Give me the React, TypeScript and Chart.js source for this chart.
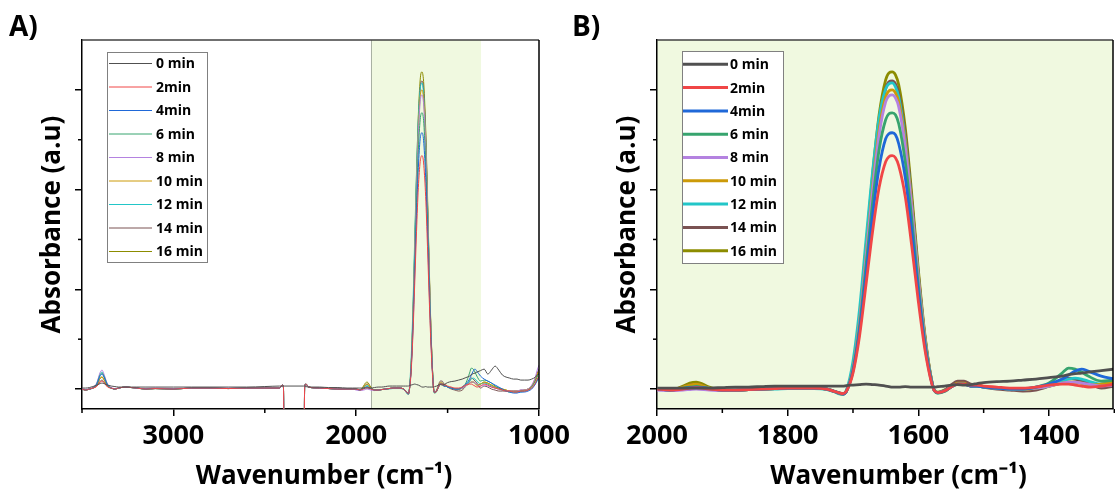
import React, { useEffect, useRef } from 'react';
import { Chart, registerables } from 'chart.js';

Chart.register(...registerables);

const FONT = '"Open Sans"';

// ---- series labels & colours ----
const LABELS = ['0 min', '2min', '4min', '6 min', '8 min', '10 min', '12 min', '14 min', '16 min'];
const COLORS = ['#505050', '#f04646', '#1f68d8', '#37a46e', '#b482e0', '#cc9a08', '#22c6c8', '#7a5252', '#8c8c00'];

// ---- axis ticks & titles ----
const A_X_MAJOR = [3000, 2000, 1000];
const A_X_MINOR = [3500, 2500, 1500];
const B_X_MAJOR = [2000, 1800, 1600, 1400];
const B_X_MINOR = [1900, 1700, 1500, 1300];
const Y_MAJOR = [0, 1, 2, 3];
const Y_MINOR = [0.5, 1.5, 2.5];
const A_SHADE = [1920, 1317];
const X_TITLE = '    Wavenumber (cm⁻¹)';
const Y_TITLE = 'Absorbance (a.u)';

// ---- wavenumber grids (cm-1) ----
const WN_HIGH = [3500, 3480, 3460, 3440, 3420, 3400, 3390, 3380, 3360, 3340, 3320, 3300, 3260, 3230, 3200, 3150, 3100, 3000, 2900, 2800, 2700, 2600, 2500, 2420, 2405, 2398, 2390, 2290, 2282, 2275, 2260, 2200, 2150, 2100, 2050, 2020];
const WN_MID = [2000, 1980, 1960, 1950, 1940, 1920, 1900, 1880, 1860, 1840, 1820, 1800, 1780, 1760, 1740, 1730, 1720, 1715, 1710, 1700, 1690, 1680, 1670, 1660, 1650, 1645, 1640, 1635, 1630, 1620, 1610, 1600, 1590, 1580, 1575, 1570, 1560, 1550, 1540, 1530, 1520, 1510, 1500, 1480, 1460, 1440, 1420, 1400, 1380, 1370, 1360, 1350, 1340, 1320, 1300];
const WN_LOW = [1280, 1260, 1240, 1220, 1200, 1180, 1160, 1140, 1120, 1100, 1080, 1060, 1040, 1020, 1010, 1000];

// ---- absorbance, 3500-2020 cm-1 ----
const HIGH_0 = [0.01, 0.01, 0.015, 0.025, 0.04, 0.055, 0.06, 0.055, 0.04, 0.03, 0.025, 0.02, 0.02, 0.02, 0.02, 0.02, 0.02, 0.02, 0.02, 0.02, 0.02, 0.02, 0.025, 0.03, 0.03, 0.03, 0.03, 0.03, 0.03, 0.025, 0.02, 0.02, 0.015, 0.015, 0.01, 0.01];
const HIGH_2 = [0.0, -0.01, 0.0, 0.01, 0.025, 0.07, 0.08, 0.065, 0.02, 0.01, 0.0, 0.01, 0.02, 0.015, 0.01, 0.0, 0.005, 0.0, 0.01, 0.01, 0.005, 0.01, 0.01, 0.01, 0.04, 0.02, -3, -3, 0.02, 0.05, 0.02, 0.01, 0.005, 0.0, 0.0, 0.0];
const HIGH_4 = [0.0, -0.01, 0.0, 0.01, 0.045, 0.135, 0.15, 0.12, 0.04, 0.01, 0.0, 0.01, 0.02, 0.015, 0.01, 0.0, 0.005, 0.0, 0.01, 0.01, 0.005, 0.01, 0.01, 0.01, 0.04, 0.02, -3, -3, 0.02, 0.05, 0.02, 0.01, 0.005, 0.0, 0.0, 0.0];
const HIGH_6 = [0.0, -0.01, 0.0, 0.01, 0.05, 0.145, 0.16, 0.13, 0.04, 0.01, 0.0, 0.01, 0.02, 0.015, 0.01, 0.0, 0.005, 0.0, 0.01, 0.01, 0.005, 0.01, 0.01, 0.01, 0.04, 0.02, -3, -3, 0.02, 0.05, 0.02, 0.01, 0.005, 0.0, 0.0, 0.0];
const HIGH_8 = [0.005, -0.005, 0.005, 0.015, 0.06, 0.17, 0.19, 0.15, 0.05, 0.015, 0.005, 0.01, 0.02, 0.015, 0.01, 0.005, 0.01, 0.005, 0.01, 0.01, 0.01, 0.01, 0.01, 0.01, 0.04, 0.02, -3, -3, 0.02, 0.05, 0.02, 0.01, 0.005, 0.0, 0.0, 0.0];
const HIGH_10 = [0.0, -0.01, 0.0, 0.01, 0.035, 0.11, 0.12, 0.095, 0.03, 0.01, 0.0, 0.01, 0.02, 0.015, 0.01, 0.0, 0.005, 0.0, 0.01, 0.01, 0.005, 0.01, 0.01, 0.01, 0.04, 0.02, -3, -3, 0.02, 0.05, 0.02, 0.01, 0.005, 0.0, 0.0, 0.0];
const HIGH_12 = [0.0, -0.01, 0.0, 0.01, 0.05, 0.155, 0.17, 0.135, 0.045, 0.01, 0.0, 0.01, 0.02, 0.015, 0.01, 0.0, 0.005, 0.0, 0.01, 0.01, 0.005, 0.01, 0.01, 0.01, 0.04, 0.02, -3, -3, 0.02, 0.05, 0.02, 0.01, 0.005, 0.0, 0.0, 0.0];
const HIGH_14 = [0.0, -0.01, 0.0, 0.01, 0.03, 0.08, 0.09, 0.07, 0.025, 0.01, 0.0, 0.01, 0.02, 0.015, 0.01, 0.0, 0.005, 0.0, 0.01, 0.01, 0.005, 0.01, 0.01, 0.01, 0.04, 0.02, -3, -3, 0.02, 0.05, 0.02, 0.01, 0.005, 0.0, 0.0, 0.0];
const HIGH_16 = [0.0, -0.01, 0.0, 0.01, 0.035, 0.11, 0.12, 0.095, 0.03, 0.01, 0.0, 0.01, 0.02, 0.015, 0.01, 0.0, 0.005, 0.0, 0.01, 0.01, 0.005, 0.01, 0.01, 0.01, 0.04, 0.02, -3, -3, 0.02, 0.05, 0.02, 0.01, 0.005, 0.0, 0.0, 0.0];

// ---- absorbance, 2000-1300 cm-1 ----
const MID_0 = [0.01, 0.01, 0.01, 0.01, 0.01, 0.01, 0.015, 0.02, 0.02, 0.025, 0.03, 0.03, 0.03, 0.03, 0.03, 0.03, 0.03, 0.03, 0.035, 0.04, 0.045, 0.05, 0.045, 0.04, 0.03, 0.025, 0.02, 0.02, 0.02, 0.025, 0.02, 0.02, 0.02, 0.02, 0.02, 0.025, 0.03, 0.04, 0.045, 0.04, 0.045, 0.055, 0.065, 0.075, 0.08, 0.09, 0.1, 0.115, 0.13, 0.145, 0.155, 0.16, 0.17, 0.185, 0.2];
const MID_2 = [0.0, -0.01, 0.0, 0.01, 0.015, 0.0, -0.01, -0.01, -0.005, 0.0, 0.005, 0.01, 0.01, 0.01, 0.0, -0.02, -0.04, -0.045, -0.02, 0.16, 0.53, 1.05, 1.58, 2.02, 2.28, 2.33, 2.34, 2.32, 2.24, 1.93, 1.43, 0.88, 0.4, 0.07, -0.02, -0.035, -0.02, 0.02, 0.05, 0.05, 0.04, 0.04, 0.03, 0.02, 0.01, 0.01, 0.02, 0.04, 0.05, 0.05, 0.04, 0.03, 0.02, 0.03, 0.05];
const MID_4 = [0.0, -0.01, 0.005, 0.015, 0.02, 0.005, -0.01, -0.01, -0.005, 0.0, 0.005, 0.01, 0.01, 0.01, 0.0, -0.02, -0.04, -0.05, -0.02, 0.18, 0.58, 1.15, 1.74, 2.22, 2.51, 2.56, 2.57, 2.55, 2.46, 2.12, 1.58, 0.97, 0.44, 0.08, -0.02, -0.035, -0.02, 0.02, 0.05, 0.05, 0.03, 0.03, 0.02, 0.01, 0.0, 0.0, 0.02, 0.05, 0.1, 0.14, 0.18, 0.2, 0.18, 0.13, 0.1];
const MID_6 = [0.0, -0.01, 0.01, 0.02, 0.025, 0.005, -0.01, -0.01, -0.005, 0.0, 0.005, 0.01, 0.01, 0.01, 0.0, -0.02, -0.045, -0.05, -0.02, 0.19, 0.63, 1.24, 1.87, 2.4, 2.7, 2.76, 2.77, 2.75, 2.66, 2.28, 1.7, 1.04, 0.48, 0.09, -0.02, -0.04, -0.025, 0.02, 0.05, 0.05, 0.03, 0.03, 0.02, 0.01, 0.0, 0.0, 0.02, 0.06, 0.16, 0.21, 0.2, 0.17, 0.13, 0.08, 0.09];
const MID_8 = [-0.01, -0.015, -0.01, -0.005, 0.0, -0.01, -0.015, -0.01, -0.005, 0.0, 0.005, 0.01, 0.01, 0.01, 0.0, -0.02, -0.045, -0.05, -0.02, 0.2, 0.67, 1.32, 1.99, 2.55, 2.88, 2.94, 2.95, 2.92, 2.83, 2.43, 1.81, 1.11, 0.51, 0.09, -0.02, -0.035, -0.02, 0.02, 0.05, 0.05, 0.03, 0.03, 0.02, 0.01, 0.0, 0.0, 0.01, 0.03, 0.06, 0.07, 0.07, 0.06, 0.05, 0.03, 0.04];
const MID_10 = [0.0, -0.01, 0.02, 0.04, 0.05, 0.01, -0.01, -0.01, -0.005, 0.0, 0.005, 0.01, 0.01, 0.01, 0.0, -0.02, -0.045, -0.05, -0.02, 0.21, 0.68, 1.34, 2.03, 2.6, 2.93, 2.99, 3.0, 2.97, 2.88, 2.47, 1.84, 1.13, 0.52, 0.09, -0.02, -0.035, -0.02, 0.02, 0.06, 0.06, 0.03, 0.03, 0.02, 0.01, 0.0, -0.005, 0.01, 0.03, 0.06, 0.07, 0.07, 0.06, 0.04, 0.05, 0.07];
const MID_12 = [0.0, -0.01, 0.015, 0.03, 0.035, 0.01, -0.01, -0.01, -0.005, 0.0, 0.0, 0.005, 0.005, 0.005, -0.005, -0.025, -0.05, -0.05, -0.01, 0.28, 0.8, 1.5, 2.18, 2.72, 3.01, 3.06, 3.07, 3.03, 2.93, 2.5, 1.85, 1.13, 0.51, 0.09, -0.02, -0.04, -0.02, 0.02, 0.05, 0.05, 0.03, 0.03, 0.02, 0.01, 0.0, 0.0, 0.01, 0.03, 0.08, 0.1, 0.11, 0.1, 0.08, 0.05, 0.06];
const MID_14 = [0.0, -0.01, 0.02, 0.04, 0.05, 0.01, -0.01, -0.01, -0.005, 0.0, 0.005, 0.01, 0.015, 0.01, 0.0, -0.02, -0.04, -0.045, -0.02, 0.21, 0.7, 1.38, 2.09, 2.67, 3.01, 3.08, 3.09, 3.06, 2.96, 2.55, 1.89, 1.16, 0.53, 0.1, -0.02, -0.035, -0.015, 0.04, 0.08, 0.08, 0.05, 0.04, 0.02, 0.0, -0.01, -0.02, -0.01, 0.03, 0.08, 0.11, 0.1, 0.08, 0.06, 0.01, 0.03];
const MID_16 = [0.0, -0.01, 0.03, 0.06, 0.07, 0.02, -0.01, -0.01, -0.005, 0.0, 0.005, 0.01, 0.015, 0.01, 0.0, -0.02, -0.04, -0.05, -0.02, 0.22, 0.72, 1.42, 2.15, 2.75, 3.1, 3.17, 3.18, 3.15, 3.05, 2.62, 1.95, 1.2, 0.55, 0.1, -0.02, -0.03, -0.01, 0.03, 0.06, 0.06, 0.04, 0.04, 0.025, 0.01, 0.0, 0.0, 0.01, 0.03, 0.06, 0.07, 0.07, 0.06, 0.04, 0.05, 0.07];

// ---- absorbance, 1280-1000 cm-1 ----
const LOW_0 = [0.15, 0.19, 0.23, 0.19, 0.14, 0.12, 0.11, 0.1, 0.1, 0.09, 0.09, 0.09, 0.1, 0.12, 0.14, 0.15];
const LOW_2 = [0.04, 0.02, 0.01, 0.0, -0.01, -0.02, -0.02, -0.03, -0.03, -0.02, -0.02, -0.01, 0.01, 0.06, 0.1, 0.13];
const LOW_4 = [0.08, 0.06, 0.04, 0.02, 0.0, -0.02, -0.03, -0.04, -0.04, -0.03, -0.03, -0.02, 0.0, 0.05, 0.09, 0.12];
const LOW_6 = [0.08, 0.06, 0.03, 0.01, -0.01, -0.02, -0.03, -0.03, -0.03, -0.02, -0.02, -0.01, 0.02, 0.08, 0.12, 0.16];
const LOW_8 = [0.03, 0.02, 0.01, 0.0, -0.01, -0.02, -0.02, -0.02, -0.02, -0.01, -0.01, 0.0, 0.04, 0.12, 0.19, 0.24];
const LOW_10 = [0.06, 0.04, 0.02, 0.01, 0.0, -0.01, -0.02, -0.02, -0.02, -0.02, -0.01, 0.0, 0.03, 0.1, 0.15, 0.18];
const LOW_12 = [0.05, 0.03, 0.01, 0.0, -0.01, -0.02, -0.03, -0.03, -0.03, -0.03, -0.02, -0.01, 0.01, 0.05, 0.08, 0.1];
const LOW_14 = [0.02, 0.0, -0.01, -0.02, -0.02, -0.02, -0.02, -0.02, -0.02, -0.01, -0.01, 0.0, 0.03, 0.11, 0.16, 0.2];
const LOW_16 = [0.06, 0.04, 0.02, 0.01, 0.0, -0.01, -0.02, -0.02, -0.02, -0.02, -0.01, 0.0, 0.03, 0.09, 0.14, 0.17];

const HIGH = [HIGH_0, HIGH_2, HIGH_4, HIGH_6, HIGH_8, HIGH_10, HIGH_12, HIGH_14, HIGH_16];
const MID = [MID_0, MID_2, MID_4, MID_6, MID_8, MID_10, MID_12, MID_14, MID_16];
const LOW = [LOW_0, LOW_2, LOW_4, LOW_6, LOW_8, LOW_10, LOW_12, LOW_14, LOW_16];

function zip(xs: number[], ys: number[]) {
  return xs.map((x, i) => ({ x, y: ys[i] }));
}

type PanelCfg = {
  letter: string;
  letterX: number;
  full: boolean;
  lineWidth: number;
  legend: { x: number; y: number; w: number; h: number; x1: number; x2: number; tx: number; y0: number; dy: number };
  xMinor: number[];
};

function makePlugins(cfg: PanelCfg) {
  return [
    {
      id: 'panelBg',
      beforeDraw(chart: any) {
        const { ctx, chartArea: ca, scales } = chart;
        ctx.save();
        ctx.fillStyle = '#f0f9e0';
        if (cfg.full) {
          ctx.fillRect(ca.left, ca.top, ca.right - ca.left, ca.bottom - ca.top);
        } else {
          const x1 = scales.x.getPixelForValue(A_SHADE[0]);
          const x2 = scales.x.getPixelForValue(A_SHADE[1]);
          ctx.fillRect(x1, ca.top, x2 - x1, ca.bottom - ca.top);
          ctx.strokeStyle = '#a9b1a3';
          ctx.lineWidth = 1;
          ctx.beginPath();
          ctx.moveTo(Math.round(x1) + 0.5, ca.top);
          ctx.lineTo(Math.round(x1) + 0.5, ca.bottom);
          ctx.stroke();
        }
        ctx.restore();
      },
    },
    {
      id: 'frameTicksLegend',
      afterDraw(chart: any) {
        const { ctx, chartArea: ca, scales } = chart;
        ctx.save();
        ctx.lineWidth = 1.5;
        ctx.strokeStyle = '#404040';
        ctx.beginPath();
        ctx.moveTo(ca.left, ca.top);
        ctx.lineTo(ca.right, ca.top);
        ctx.stroke();
        ctx.strokeStyle = '#000';
        ctx.beginPath();
        ctx.moveTo(ca.right, ca.top);
        ctx.lineTo(ca.right, ca.bottom);
        ctx.stroke();
        ctx.strokeStyle = '#000';
        ctx.lineWidth = 1.5;
        cfg.xMinor.forEach((v) => {
          const px = scales.x.getPixelForValue(v);
          ctx.beginPath();
          ctx.moveTo(px, ca.bottom);
          ctx.lineTo(px, ca.bottom + 4);
          ctx.stroke();
        });
        Y_MINOR.forEach((v) => {
          const py = scales.y.getPixelForValue(v);
          ctx.beginPath();
          ctx.moveTo(ca.left, py);
          ctx.lineTo(ca.left - 4, py);
          ctx.stroke();
        });
        const L = cfg.legend;
        ctx.fillStyle = '#ffffff';
        ctx.fillRect(L.x, L.y, L.w, L.h);
        ctx.strokeStyle = '#808080';
        ctx.lineWidth = 1;
        ctx.strokeRect(L.x + 0.5, L.y + 0.5, L.w, L.h);
        chart.data.datasets.forEach((ds: any, i: number) => {
          const yy = L.y0 + i * L.dy;
          ctx.strokeStyle = ds.borderColor;
          ctx.lineWidth = cfg.lineWidth;
          ctx.beginPath();
          ctx.moveTo(L.x1, yy);
          ctx.lineTo(L.x2, yy);
          ctx.stroke();
          ctx.fillStyle = '#000';
          ctx.font = `bold 14px ${FONT}`;
          ctx.textBaseline = 'middle';
          ctx.textAlign = 'left';
          ctx.fillText(ds.label, L.tx, yy + 1);
        });
        ctx.fillStyle = '#000';
        ctx.font = `bold 28px ${FONT}`;
        ctx.textBaseline = 'alphabetic';
        ctx.fillText(cfg.letter, cfg.letterX, 36);
        ctx.restore();
      },
    },
  ];
}

function axisCommon() {
  return {
    grid: { display: true, drawOnChartArea: false, drawTicks: true, tickLength: 7, color: '#000', lineWidth: 1.5 },
    border: { display: true, color: '#000', width: 1.5 },
  };
}

function buildConfig(panel: 'A' | 'B'): any {
  const isA = panel === 'A';
  const datasets = LABELS.map((label, i) => ({
    label,
    data: isA
      ? zip([...WN_HIGH, ...WN_MID, ...WN_LOW], [...HIGH[i], ...MID[i], ...LOW[i]])
      : zip(WN_MID, MID[i]),
    borderColor: COLORS[i],
    backgroundColor: COLORS[i],
    borderWidth: isA ? 1 : 2.8,
    pointRadius: 0,
    fill: false,
    cubicInterpolationMode: 'monotone',
  }));
  const cfg: PanelCfg = isA
    ? {
        letter: 'A)', letterX: 9, full: false, lineWidth: 1,
        legend: { x: 107, y: 52, w: 100, h: 210, x1: 109, x2: 152, tx: 156, y0: 63.5, dy: 23.5 },
        xMinor: A_X_MINOR,
      }
    : {
        letter: 'B)', letterX: 15, full: true, lineWidth: 3,
        legend: { x: 125, y: 51, w: 101, h: 212, x1: 126, x2: 171, tx: 173, y0: 64.3, dy: 23.3 },
        xMinor: B_X_MINOR,
      };
  const major = isA ? A_X_MAJOR : B_X_MAJOR;
  return {
    type: 'line',
    data: { datasets },
    plugins: makePlugins(cfg),
    options: {
      animation: false,
      responsive: false,
      layout: { padding: isA ? { left: 0, top: 40, right: 81, bottom: 0 } : { left: 0, top: 40, right: 2, bottom: 0 } },
      plugins: { legend: { display: false }, tooltip: { enabled: false }, title: { display: false } },
      scales: {
        x: {
          type: 'linear',
          reverse: true,
          min: isA ? 1000 : 1302,
          max: isA ? 3500 : 2000,
          afterBuildTicks: (s: any) => { s.ticks = major.map((v) => ({ value: v })); },
          ticks: {
            color: '#000',
            font: { family: FONT, size: 27, weight: 'bold' },
            padding: 4,
            maxRotation: 0,
            autoSkip: false,
            callback: (v: any) => String(v),
          },
          ...axisCommon(),
          title: {
            display: true,
            text: X_TITLE,
            color: '#000',
            font: { family: FONT, size: 26, weight: 'bold' },
            padding: { top: 0, bottom: 5 },
          },
          afterFit: (s: any) => { s.height = 88; },
        },
        y: {
          type: 'linear',
          min: -0.2,
          max: 3.5,
          afterBuildTicks: (s: any) => { s.ticks = Y_MAJOR.map((v) => ({ value: v })); },
          ticks: { display: false },
          ...axisCommon(),
          title: {
            display: true,
            text: Y_TITLE,
            color: '#000',
            font: { family: FONT, size: 26, weight: 'bold' },
            padding: { top: isA ? 37 : 55, bottom: 0 },
          },
          afterFit: (s: any) => { s.width = isA ? 82 : 100; },
        },
      },
    },
  };
}

function Panel({ panel, left, width }: { panel: 'A' | 'B'; left: number; width: number }) {
  const ref = useRef<HTMLCanvasElement | null>(null);
  useEffect(() => {
    if (!ref.current) return;
    const chart = new Chart(ref.current, buildConfig(panel));
    return () => chart.destroy();
  }, [panel]);
  return (
    <canvas
      ref={ref}
      width={width}
      height={497}
      style={{ position: 'absolute', left, top: 0, width, height: 497 }}
    />
  );
}

export default function App() {
  return (
    <div style={{ position: 'fixed', left: 0, top: 0, width: 1115, height: 497, background: '#fff', overflow: 'hidden' }}>
      <Panel panel="A" left={0} width={620} />
      <Panel panel="B" left={557} width={558} />
    </div>
  );
}
